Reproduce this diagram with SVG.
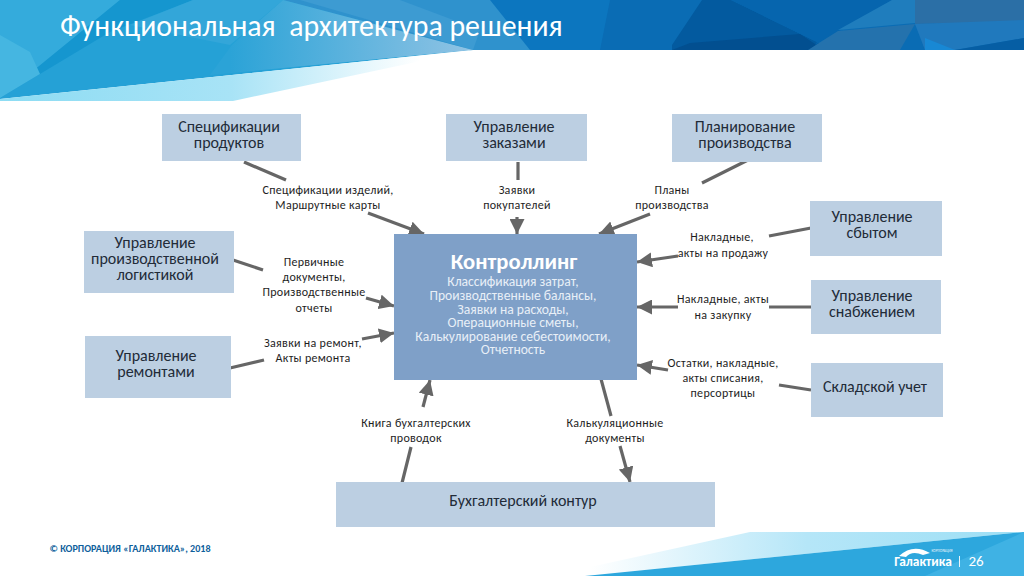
<svg xmlns="http://www.w3.org/2000/svg" width="1024" height="576" viewBox="0 0 1024 576">
<defs>
<linearGradient id="fade" gradientUnits="userSpaceOnUse" x1="0" y1="0" x2="420" y2="0"><stop offset="0" stop-color="#8ddcf3"/><stop offset="0.55" stop-color="#a8e3f6"/><stop offset="1" stop-color="#ffffff"/></linearGradient>
<linearGradient id="fade2" gradientUnits="userSpaceOnUse" x1="590" y1="0" x2="1024" y2="0"><stop offset="0" stop-color="#ffffff"/><stop offset="0.5" stop-color="#b5e6f8"/><stop offset="1" stop-color="#9ddff5"/></linearGradient>
<linearGradient id="lite" gradientUnits="userSpaceOnUse" x1="230" y1="0" x2="473" y2="0"><stop offset="0" stop-color="#2ba3d7"/><stop offset="1" stop-color="#90c3e4"/></linearGradient>
<marker id="ah" viewBox="0 0 10 10" refX="10" refY="5" markerWidth="15" markerHeight="15" markerUnits="userSpaceOnUse" orient="auto"><path d="M0 0L10 5L0 10z" fill="#666666"/></marker>
</defs>
<style>
text{font-family:"Carlito","Lato","Noto Sans",sans-serif;text-anchor:middle}
.n{fill:#bccfe2}
.t{font-size:16px;fill:#222b38}
.l{font-size:12px;fill:#1e1e1e;letter-spacing:.3px}
.c{stroke:#666666;stroke-width:3.2;fill:none}
.a{marker-end:url(#ah)}
.w{font-size:13.6px;fill:#e8eff7}
</style>
<rect width="1024" height="576" fill="#ffffff"/>
<g id="header">
<rect width="1024" height="50" fill="#0a6cb4"/>
<polygon points="280,0 530,0 600,50 473,50" fill="#2f92cd"/>
<polygon points="300,0 400,0 480,30 473,50" fill="#3d9bd2"/>
<polygon points="490,0 610,0 600,50 530,50" fill="#0c76bf"/>
<polygon points="672,50 672,45 702,0 731,0 817,42 832,50" fill="#035a9f"/>
<polygon points="672,50 690,43 800,34 824,50" fill="#024f90"/>
<polygon points="731,0 892,0 815,45 817,42" fill="#0665ae"/>
<polygon points="892,0 915,0 915,23 838,30" fill="#1f7dbd"/>
<polygon points="915,0 1024,0 1024,22 915,24" fill="#2b6fa6"/>
<polygon points="838,31 915,24 900,50 808,50" fill="#2472ad"/>
<polygon points="915,24 1024,20 1024,38 955,50 925,50" fill="#2079bd"/>
<polygon points="925,38 955,50 925,50" fill="#1888d4"/>
<polygon points="955,50 1024,38 1024,50" fill="#065ea4"/>
<polygon points="0,0 283,0 473,50 0,99" fill="#25a1d6"/>
<polygon points="0,0 120,0 0,98" fill="#34abdc"/>
<polygon points="120,0 193,0 110,32 0,98" fill="#1596cf"/>
<polygon points="193,0 283,0 230,45 130,25" fill="#33a6d9"/>
<polygon points="0,35 30,52 40,74 0,98" fill="#45b6e1"/>
<polygon points="210,75 232,45 283,0 473,50" fill="url(#lite)"/>
<polygon points="0,99 473,50 233,101 0,101" fill="url(#fade)"/>
<text x="60" y="36" xml:space="preserve" style="font-size:29.8px;fill:#ffffff;text-anchor:start">Функциональная  архитектура решения</text>
</g>
<g id="footer">
<polygon points="750,532 1024,532 585,576 549,576" fill="url(#fade2)"/>
<polygon points="1024,532 585,576 1024,576" fill="#2da7dd"/>
<polygon points="1024,532 1024,576 925,576" fill="#3fb2e4"/>
<text x="130" y="552" style="font-size:10.1px;font-weight:700;fill:#0f5f9c">© КОРПОРАЦИЯ «ГАЛАКТИКА», 2018</text>
<text x="923" y="566" style="font-size:13.4px;font-weight:700;fill:#ffffff">Галактика</text>
<text x="942" y="552" style="font-size:3.6px;fill:#e8f5fc">КОРПОРАЦИЯ</text>
<path d="M899 556Q913 543 930 553L923 555Q912 550 906 557z" fill="#ffffff"/>
<rect x="959" y="556" width="1" height="11" fill="#e8f5fc"/>
<text x="976" y="566" style="font-size:15px;fill:#ffffff">26</text>
</g>
<g id="connectors">
<path class="c" d="M244 162L286 180"/>
<path class="c a" d="M368 213L424 234"/>
<path class="c" d="M518 162V180"/>
<path class="c a" d="M517 217V234"/>
<path class="c" d="M752 158L702 183"/>
<path class="c a" d="M650 214L599 234"/>
<path class="c" d="M233 260L263 270"/>
<path class="c a" d="M366 298L394 306"/>
<path class="c" d="M230 368L264 360"/>
<path class="c a" d="M362 339L394 333"/>
<path class="c" d="M811 228L769 236"/>
<path class="c a" d="M678 256L637 262"/>
<path class="c" d="M811 307H769"/>
<path class="c a" d="M678 307H637"/>
<path class="c" d="M811 390L779 385"/>
<path class="c a" d="M668 370L637 365"/>
<path class="c" d="M402 483L411 447"/>
<path class="c a" d="M423 407L430 380"/>
<path class="c" d="M601 379L611 416"/>
<path class="c a" d="M620 446L630 482"/>
</g>
<g id="n1"><rect class="n" x="162" y="114" width="139" height="47"/><text class="t" x="229" y="132">Спецификации</text><text class="t" x="229" y="148">продуктов</text></g>
<g id="n2"><rect class="n" x="446" y="114" width="141" height="47"/><text class="t" x="514" y="132">Управление</text><text class="t" x="514" y="148">заказами</text></g>
<g id="n3"><rect class="n" x="672" y="114" width="150" height="48"/><text class="t" x="745" y="132">Планирование</text><text class="t" x="745" y="148">производства</text></g>
<g id="n4"><rect class="n" x="810" y="201" width="132" height="55"/><text class="t" x="872" y="222">Управление</text><text class="t" x="872" y="238">сбытом</text></g>
<g id="n5"><rect class="n" x="811" y="280" width="130" height="54"/><text class="t" x="872" y="301">Управление</text><text class="t" x="872" y="317">снабжением</text></g>
<g id="n6"><rect class="n" x="811" y="363" width="132" height="54"/><text class="t" x="875" y="392">Складской учет</text></g>
<g id="n7"><rect class="n" x="84" y="231" width="150" height="62"/><text class="t" x="155" y="248">Управление</text><text class="t" x="155" y="264">производственной</text><text class="t" x="155" y="280">логистикой</text></g>
<g id="n8"><rect class="n" x="85" y="336" width="146" height="62"/><text class="t" x="156" y="361">Управление</text><text class="t" x="156" y="377">ремонтами</text></g>
<g id="n9"><rect class="n" x="336" y="482" width="379" height="45"/><text class="t" x="523" y="506">Бухгалтерский контур</text></g>
<g id="center"><rect x="394" y="234" width="243" height="146" fill="#7fa0c8"/>
<text x="514" y="269" style="font-size:22.6px;font-weight:700;fill:#ffffff">Контроллинг</text>
<text class="w" x="513" y="286">Классификация затрат,</text>
<text class="w" x="513" y="300">Производственные балансы,</text>
<text class="w" x="513" y="314">Заявки на расходы,</text>
<text class="w" x="513" y="327">Операционные сметы,</text>
<text class="w" x="513" y="341">Калькулирование себестоимости,</text>
<text class="w" x="513" y="354">Отчетность</text></g>
<g id="labels">
<text class="l" x="328" y="194">Спецификации изделий,</text><text class="l" x="328" y="209">Маршрутные карты</text>
<text class="l" x="517" y="194">Заявки</text><text class="l" x="517" y="209">покупателей</text>
<text class="l" x="672" y="194">Планы</text><text class="l" x="672" y="209">производства</text>
<text class="l" x="722" y="241">Накладные,</text><text class="l" x="723" y="257">акты на продажу</text>
<text class="l" x="723" y="303">Накладные, акты</text><text class="l" x="723" y="319">на закупку</text>
<text class="l" x="723" y="367">Остатки, накладные,</text><text class="l" x="723" y="382">акты списания,</text><text class="l" x="723" y="397">персортицы</text>
<text class="l" x="314" y="266">Первичные</text><text class="l" x="314" y="281">документы,</text><text class="l" x="314" y="296">Производственные</text><text class="l" x="314" y="312">отчеты</text>
<text class="l" x="313" y="347">Заявки на ремонт,</text><text class="l" x="313" y="362">Акты ремонта</text>
<text class="l" x="416" y="427">Книга бухгалтерских</text><text class="l" x="416" y="442">проводок</text>
<text class="l" x="615" y="427">Калькуляционные</text><text class="l" x="615" y="442">документы</text>
</g>
</svg>
